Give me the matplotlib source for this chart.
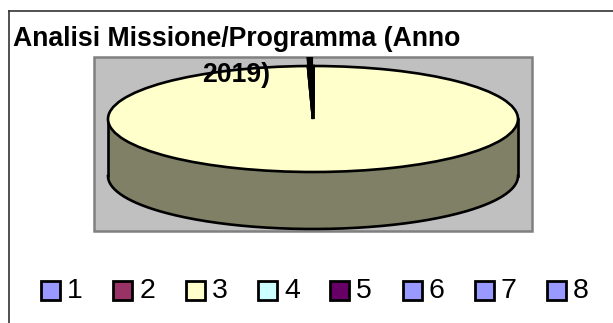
import numpy as np
import matplotlib
matplotlib.use("Agg")
import matplotlib.pyplot as plt
from matplotlib.patches import Rectangle

labels = ["1", "2", "3", "4", "5", "6", "7", "8"]
values = [0, 0, 99.55, 0, 0.45, 0, 0, 0]
colors = ["#9999FF", "#993366", "#FFFFCC", "#CCFFFF", "#660066", "#9999FF", "#9999FF", "#9999FF"]
side_color = "#808066"
title_lines = ["Analisi Missione/Programma (Anno", "2019)"]

W, H = 613, 323
plt.rcParams["font.family"] = ["Liberation Sans", "DejaVu Sans"]

fig = plt.figure(figsize=(W / 100, H / 100), dpi=100)
bg = fig.add_axes([0, 0, 1, 1])
bg.set_xlim(0, W)
bg.set_ylim(H, 0)
bg.axis("off")

# chart border, only the top and left edges are in the picture
bg.plot([9, W], [10.5, 10.5], color="#333333", lw=1.2)
bg.plot([9, 9], [10.5, H], color="#333333", lw=1.2)

# grey plot area
bg.add_patch(Rectangle((94, 57), 438, 174, fc="#C0C0C0", ec="#808080", lw=1.8))

# side of the cylinder
cx, cy, rx, ry, depth = 313, 119, 205, 53, 57
t = np.linspace(np.pi, 0, 200)
xs = cx + rx * np.cos(t)
lower = cy + ry * np.sin(t)
bg.fill_between(xs, lower, lower + depth, color=side_color, lw=0, zorder=2)
bg.plot(xs, lower + depth, color="black", lw=1.9, zorder=3)
bg.plot([cx - rx, cx - rx], [cy, cy + depth], color="black", lw=1.9, zorder=3)
bg.plot([cx + rx, cx + rx], [cy, cy + depth], color="black", lw=1.9, zorder=3)

# top of the pie, flattened by an axes that is not square
pie_ax = fig.add_axes([(cx - rx) / W, 1 - (cy + ry) / H, 2 * rx / W, 2 * ry / H])
pie_ax.pie(values, colors=colors, startangle=89.8, counterclock=False, radius=1.0,
           wedgeprops={"edgecolor": "black", "linewidth": 1.9})
pie_ax.set_aspect("auto")
pie_ax.set_xlim(-1, 1)
pie_ax.set_ylim(-1, 1)
pie_ax.patch.set_visible(False)
for p in pie_ax.patches:
    p.set_clip_on(False)

# the thin slice pokes out over the rim
top_ax = fig.add_axes(pie_ax.get_position())
top_ax.pie([values[4], 100 - values[4]], colors=["black", "none"], startangle=91.6, counterclock=False,
           radius=1.17, wedgeprops={"linewidth": 0})
top_ax.set_aspect("auto")
top_ax.set_xlim(-1, 1)
top_ax.set_ylim(-1, 1)
top_ax.patch.set_visible(False)
for p in top_ax.patches:
    p.set_clip_on(False)

# title sits on top of everything
fig.text(13 / W, 1 - 39.5 / H, title_lines[0], fontsize=19.2, fontweight="bold", va="center", ha="left")
fig.text(236 / W, 1 - 74.5 / H, title_lines[1], fontsize=19.2, fontweight="bold", va="center", ha="center")

# legend
x0 = 41
step = 72.3
for i, lab in enumerate(labels):
    x = x0 + i * step
    bg.add_patch(Rectangle((x, 280.5), 19, 19, fc=colors[i], ec="black", lw=2.0, zorder=4))
    bg.text(x + 26, 291.5, lab, fontsize=20.5, va="center", ha="left", color="black", zorder=4)

fig.savefig("out.png", dpi=100)
